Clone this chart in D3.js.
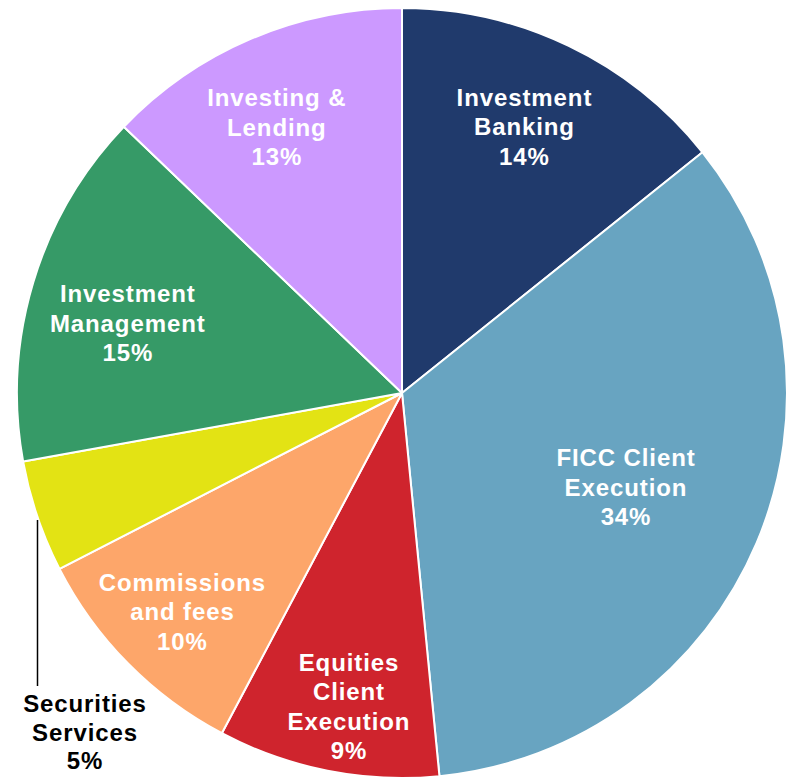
<!DOCTYPE html>
<html>
<head>
<meta charset="utf-8">
<script src="https://cdn.jsdelivr.net/npm/d3@7"></script>
<style>
  body { margin: 0; background: #fff; }
  text { font-family: "Liberation Sans", Arial, sans-serif; font-weight: bold; }
</style>
</head>
<body>
<div id="canvas"></div>
<script>
// segments, clockwise from 12 o'clock
const segments = ["Investment Banking", "FICC Client Execution", "Equities Client Execution",
  "Commissions and fees", "Securities Services", "Investment Management", "Investing & Lending"];
const shares = [14.25, 34.2, 9.3, 9.7, 4.7, 15.0, 12.85];
const pctLabels = ["14%", "34%", "9%", "10%", "5%", "15%", "13%"];
const labelLines = [
  ["Investment", "Banking"],
  ["FICC Client", "Execution"],
  ["Equities", "Client", "Execution"],
  ["Commissions", "and fees"],
  ["Securities", "Services"],
  ["Investment", "Management"],
  ["Investing &", "Lending"]
];
const colors = ["#203A6C", "#68A4C1", "#CF242D", "#FDA66A", "#E3E314", "#369A67", "#CC99FF"];

const width = 792;
const height = 779;
const cx = 402, cy = 393, radius = 385;

const svg = d3.select("#canvas").append("svg")
  .attr("width", width)
  .attr("height", height);

const g = svg.append("g").attr("transform", `translate(${cx},${cy})`);

const data = segments.map((name, i) => ({ name, value: shares[i], pct: pctLabels[i], lines: labelLines[i], color: colors[i] }));

const pie = d3.pie().value(d => d.value).sort(null);
const arc = d3.arc().innerRadius(0).outerRadius(radius);

const arcs = pie(data);

g.selectAll("path.slice").data(arcs)
  .enter().append("path")
  .attr("class", "slice")
  .attr("d", arc)
  .attr("fill", d => d.data.color)
  .attr("stroke", "#fff")
  .attr("stroke-width", 2)
  .attr("stroke-linejoin", "round");

// label placement: [distance from centre, angle in degrees clockwise from 12 o'clock]
const labelPolar = [[293, 24.7], [243, 112.8], [318, 189.6], [310, 225.1], null, [283, 284.3], [294, 334.8]];
const fontSize = 24;

arcs.forEach((d, i) => {
  let x, y, fill = "#fff", lh = 29.5;
  if (labelPolar[i] === null) {
    // outside label with a leader line
    x = 85 - cx; y = 732 - cy;
    fill = "#000"; lh = 28.5;
    g.append("line")
      .attr("x1", 37.5 - cx).attr("x2", 37.5 - cx)
      .attr("y1", 520 - cy).attr("y2", 686 - cy)
      .attr("stroke", "#000").attr("stroke-width", 1.5);
  } else {
    const a = labelPolar[i][1] * Math.PI / 180;
    x = Math.sin(a) * labelPolar[i][0];
    y = -Math.cos(a) * labelPolar[i][0];
  }
  const lines = d.data.lines.concat([d.data.pct]);
  const first = y - (lines.length - 1) / 2 * lh + fontSize * 0.36;
  const t = g.append("text")
    .attr("text-anchor", "middle")
    .attr("fill", fill)
    .style("font-size", fontSize + "px")
    .style("letter-spacing", "0.9px");
  lines.forEach((ln, j) => {
    t.append("tspan")
      .attr("x", x)
      .attr("y", first + j * lh)
      .text(ln);
  });
});
</script>
</body>
</html>
